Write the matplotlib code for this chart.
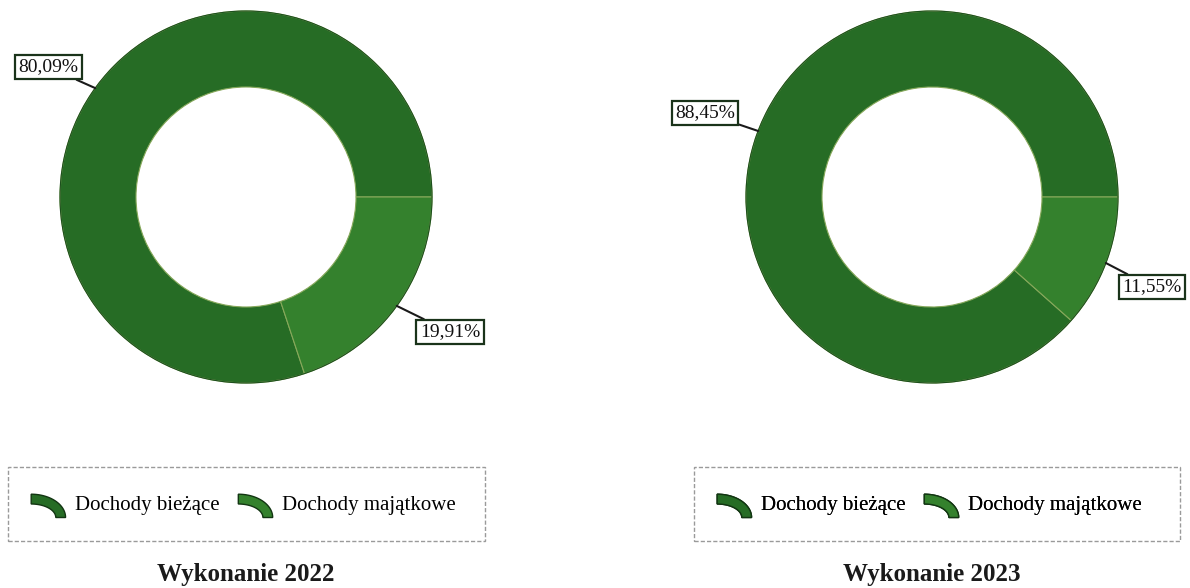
import numpy as np
import matplotlib
matplotlib.use("Agg")
import matplotlib.pyplot as plt
from matplotlib.patches import Rectangle, Polygon
from matplotlib.legend_handler import HandlerPatch

# ---- data ----
categories = ["Dochody bieżące", "Dochody majątkowe"]
values_2022 = [80.09, 19.91]
values_2023 = [88.45, 11.55]
labels_2022 = ["80,09%", "19,91%"]
labels_2023 = ["88,45%", "11,55%"]
titles = ["Wykonanie 2022", "Wykonanie 2023"]

colors = ["#266c25", "#34812d"]
sep_color = "#86a85a"
W, H = 1190, 588

plt.rcParams['font.family'] = ['Liberation Serif', 'DejaVu Serif']

fig = plt.figure(figsize=(W / 100, H / 100), dpi=100)
ax = fig.add_axes([0, 0, 1, 1])

R = 186
RIN = 110
centers = [(246, H - 197), (932, H - 197)]
# label box centres (image coords) for each slice
label_pos = [[(48, 67), (450, 332)], [(705, 113), (1152, 287)]]
legend_boxes = [(8, 467, 477, 74), (694, 467, 486, 74)]
legend_centers = [243.5, 929.5]
title_x = [246, 932]


class HandlerArc(HandlerPatch):
    def create_artists(self, legend, orig_handle, xdescent, ydescent,
                       width, height, fontsize, trans):
        t = np.linspace(0, np.pi / 2, 40)
        x0, y0 = -xdescent, -ydescent - 0.3 * height
        hh = height * 1.25
        th = 0.42 * hh
        outer = np.column_stack([x0 + width * np.cos(t), y0 + hh * np.sin(t)])
        inner = np.column_stack([x0 + (width - th) * np.cos(t[::-1]),
                                 y0 + (hh - th) * np.sin(t[::-1])])
        pts = np.vstack([outer, inner])
        p = Polygon(pts, closed=True, facecolor=orig_handle.get_facecolor(),
                    edgecolor="#123512", lw=1.0, transform=trans)
        return [p]


for i, (vals, labs) in enumerate([(values_2022, labels_2022), (values_2023, labels_2023)]):
    cx, cy = centers[i]
    wedges, _ = ax.pie(vals, colors=colors, startangle=0, counterclock=True,
                       center=(cx, cy), radius=R,
                       wedgeprops=dict(width=R - RIN, edgecolor=sep_color, linewidth=0.8))
    ax.add_patch(plt.Circle((cx, cy), R, fill=False, ec="#1d4f1d", lw=0.8))
    # annotations
    cum = np.cumsum([0] + vals)
    for j, lab in enumerate(labs):
        mid = np.deg2rad((cum[j] + cum[j + 1]) / 2 / 100 * 360)
        ex, ey = cx + R * np.cos(mid), cy + R * np.sin(mid)
        tx, ty = label_pos[i][j]
        ty = H - ty
        ax.annotate(lab, xy=(ex, ey), xytext=(tx, ty), ha="center", va="center",
                    fontsize=14, color="#111111",
                    bbox=dict(boxstyle="square,pad=0.18", fc="white", ec="#1a331a", lw=1.6),
                    arrowprops=dict(arrowstyle="-", color="#1a1a1a", lw=1.5,
                                    shrinkA=0, shrinkB=0))
    # legend frame
    bx, by, bw, bh = legend_boxes[i]
    ax.add_patch(Rectangle((bx, H - by - bh), bw, bh, fill=False, ec="#9a9a9a",
                           lw=1.0, ls=(0, (3, 1.5))))
    leg = ax.legend(wedges, categories, loc="center", ncol=2, frameon=False,
                    bbox_to_anchor=(legend_centers[i], H - by - bh / 2),
                    bbox_transform=ax.transData, fontsize=15,
                    handler_map={w: HandlerArc() for w in wedges},
                    handlelength=1.65, handleheight=1.0, handletextpad=0.45,
                    columnspacing=0.9)
    ax.add_artist(leg)
    ax.text(title_x[i], H - 575, titles[i], ha="center", va="center",
            fontsize=18, fontweight="bold", color="#1a1a1a")

ax.set_xlim(0, W)
ax.set_ylim(0, H)
ax.set_aspect("auto")
ax.axis("off")
fig.savefig("out.png", dpi=100, facecolor="white")
